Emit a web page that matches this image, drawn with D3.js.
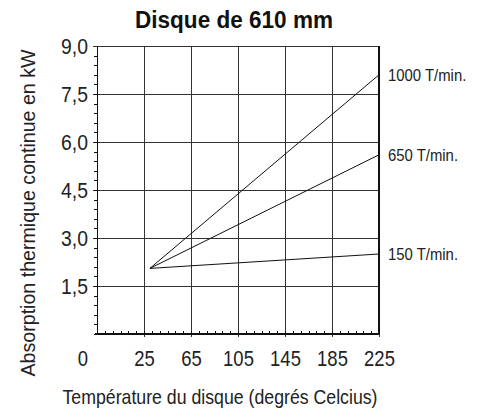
<!DOCTYPE html>
<html lang="fr">
<head>
  <meta charset="UTF-8">
  <title>Disque de 610 mm</title>
  <style>
  body { margin: 0; background: #fff; }
  svg { display: block; font-family: "Liberation Sans", Arial, sans-serif; }
  .grid line { stroke: #333; stroke-width: 1px; shape-rendering: crispEdges; }
  .axis path, .axis line { stroke: #111; shape-rendering: crispEdges; }
  .axis text { fill: #222; font-family: "Liberation Sans", Arial, sans-serif; }
  .serie { fill: none; stroke: #111; stroke-width: 1px; }
  .lbl { fill: #222; }
  </style>
</head>
<body>
  <svg></svg>
  <script src="https://cdn.jsdelivr.net/npm/d3@7"></script>
  <script>

  // data
  var speeds = ['1000 T/min.', '650 T/min.', '150 T/min.'];
  var tempStart = 30;
  var tempEnd = 225;
  var absorbStart = [2.05, 2.05, 2.05];
  var absorbEnd = [8.1, 5.6, 2.5];
  var xTicks = [25, 65, 105, 145, 185, 225];
  var yTicks = [1.5, 3.0, 4.5, 6.0, 7.5, 9.0];

  var width = 483, height = 412;
  var svg = d3.select('svg').attr('width', width).attr('height', height);

  var fr = d3.formatLocale({ decimal: ',', thousands: ' ', grouping: [3], currency: ['', ' €'] });
  var fmt = fr.format('.1f');

  // no condensed font installed: squeeze the glyphs horizontally instead
  function squeeze(sel, k) {
    sel.each(function () {
      var w = this.getComputedTextLength();
      d3.select(this).attr('textLength', w * k).attr('lengthAdjust', 'spacingAndGlyphs');
    });
  }

  // axis runs from -15 so that the 25..225 steps of 40 are evenly spread
  var x = d3.scaleLinear().domain([-15, 225]).range([97, 379]);
  var y = d3.scaleLinear().domain([0, 9]).range([334, 46]);

  // grid
  var grid = svg.append('g').attr('class', 'grid');
  grid.selectAll('.v')
      .data(xTicks)
      .enter()
      .append('line')
      .attr('x1', function (d) { return x(d); })
      .attr('x2', function (d) { return x(d); })
      .attr('y1', y(9))
      .attr('y2', y(0) + 3);
  grid.selectAll('.h')
      .data(yTicks)
      .enter()
      .append('line')
      .attr('x1', x(-15) - 4)
      .attr('x2', x(225))
      .attr('y1', function (d) { return y(d); })
      .attr('y2', function (d) { return y(d); });

  // right border is heavier
  svg.append('line')
     .attr('x1', x(225)).attr('x2', x(225))
     .attr('y1', y(9)).attr('y2', y(0))
     .attr('stroke', '#111').attr('stroke-width', 2);

  // minor ticks
  svg.append('g')
     .attr('class', 'axis')
     .attr('transform', 'translate(' + x(-15) + ',0)')
     .call(d3.axisLeft(y).tickValues(d3.range(0, 9, 0.3)).tickSize(3).tickFormat(''))
     .select('.domain').remove();
  svg.append('g')
     .attr('class', 'axis')
     .attr('transform', 'translate(0,' + y(0) + ')')
     .call(d3.axisBottom(x).tickValues(d3.range(-15, 224, 40 / 6)).tickSize(-3).tickFormat(''))
     .select('.domain').remove();

  // main axes
  var yAxis = svg.append('g')
     .attr('class', 'axis')
     .attr('transform', 'translate(' + x(-15) + ',0)')
     .call(d3.axisLeft(y).tickValues(yTicks).tickSize(0).tickSizeOuter(0).tickPadding(9).tickFormat(fmt));
  yAxis.select('.domain').attr('stroke-width', 1.6);
  yAxis.selectAll('text')
       .attr('font-size', 22)
       .attr('dy', '0.36em')
       .call(squeeze, 0.88);

  var xAxis = svg.append('g')
     .attr('class', 'axis')
     .attr('transform', 'translate(0,' + y(0) + ')')
     .call(d3.axisBottom(x).tickValues(xTicks).tickSize(0).tickSizeOuter(0).tickFormat(d3.format('d')));
  xAxis.select('.domain').attr('stroke-width', 1.6).attr('d', 'M' + (x(-15) - 2) + ',0H' + x(225));
  xAxis.selectAll('text')
       .attr('font-size', 22)
       .attr('y', 32)
       .attr('dy', 0)
       .call(squeeze, 0.84);

  // origin label
  svg.append('text')
     .attr('class', 'lbl')
     .attr('x', 83)
     .attr('y', y(0) + 32)
     .attr('text-anchor', 'middle')
     .attr('font-size', 22)
     .text('0')
     .call(squeeze, 0.84);

  // series
  var line = d3.line()
               .x(function (d) { return x(d[0]); })
               .y(function (d) { return y(d[1]); });

  var series = speeds.map(function (s, i) {
    return { name: s, pts: [[tempStart, absorbStart[i]], [tempEnd, absorbEnd[i]]] };
  });

  svg.selectAll('.serie')
     .data(series)
     .enter()
     .append('path')
     .attr('class', 'serie')
     .attr('d', function (d) { return line(d.pts); });

  svg.selectAll('.end')
     .data(series)
     .enter()
     .append('text')
     .attr('class', 'lbl')
     .attr('x', x(tempEnd) + 9)
     .attr('y', function (d) { return y(d.pts[1][1]); })
     .attr('dy', '0.36em')
     .attr('font-size', 16)
     .text(function (d) { return d.name; })
     .call(squeeze, 0.93);

  // titles
  svg.append('text')
     .attr('x', 234)
     .attr('y', 28)
     .attr('text-anchor', 'middle')
     .attr('font-size', 23)
     .attr('font-weight', 'bold')
     .attr('fill', '#111')
     .attr('textLength', 198)
     .attr('lengthAdjust', 'spacingAndGlyphs')
     .text('Disque de 610 mm');

  svg.append('text')
     .attr('class', 'lbl')
     .attr('x', 220)
     .attr('y', 404)
     .attr('text-anchor', 'middle')
     .attr('font-size', 21)
     .attr('textLength', 315)
     .attr('lengthAdjust', 'spacingAndGlyphs')
     .text('Température du disque (degrés Celcius)');

  svg.append('text')
     .attr('class', 'lbl')
     .attr('transform', 'translate(35,213) rotate(-90)')
     .attr('text-anchor', 'middle')
     .attr('font-size', 21)
     .attr('textLength', 327)
     .attr('lengthAdjust', 'spacingAndGlyphs')
     .text('Absorption thermique continue en kW');
  </script>
</body>
</html>
